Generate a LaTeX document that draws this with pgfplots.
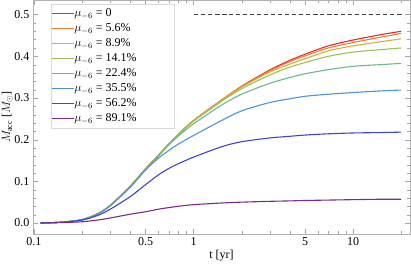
\documentclass[border=0pt]{standalone}
\usepackage{fontspec}
\setmainfont{Liberation Serif}
\usepackage{pgfplots}
\usepackage{pgfplotstable}
\pgfplotsset{compat=1.18}

\definecolor{muRed}{HTML}{E8262B}
\definecolor{muOrange}{HTML}{EE7D33}
\definecolor{muYellow}{HTML}{D7AE3A}
\definecolor{muGreen}{HTML}{9CC153}
\definecolor{muTeal}{HTML}{6AB98A}
\definecolor{muLightBlue}{HTML}{4C94D8}
\definecolor{muBlue}{HTML}{3F42D3}
\definecolor{muPurple}{HTML}{7A2A92}

\pgfplotstableread{
t      c0     c1     c2     c3     c4     c5     c6     c7
0.11   0.000  0.000  0.000  0.000  0.000  0.000  0.000  0.000
0.15   0.002  0.002  0.002  0.002  0.002  0.002  0.002  0.001
0.2    0.008  0.008  0.008  0.008  0.008  0.008  0.007  0.003
0.25   0.022  0.022  0.022  0.022  0.022  0.021  0.018  0.007
0.3    0.042  0.042  0.042  0.042  0.042  0.041  0.033  0.012
0.4    0.088  0.088  0.088  0.088  0.087  0.085  0.063  0.021
0.5    0.130  0.130  0.130  0.130  0.129  0.127  0.092  0.027
0.6    0.162  0.162  0.162  0.161  0.160  0.155  0.115  0.033
0.7    0.190  0.190  0.190  0.189  0.187  0.174  0.131  0.037
0.8    0.212  0.212  0.212  0.211  0.208  0.189  0.142  0.040
1.0    0.246  0.246  0.246  0.244  0.238  0.210  0.158  0.044
1.5    0.295  0.295  0.294  0.292  0.283  0.246  0.183  0.048
2.0    0.328  0.327  0.326  0.322  0.309  0.269  0.195  0.050
3.0    0.367  0.365  0.362  0.355  0.335  0.289  0.204  0.052
4.0    0.390  0.387  0.381  0.374  0.349  0.298  0.208  0.053
5.0    0.405  0.401  0.394  0.385  0.358  0.304  0.211  0.054
7.0    0.425  0.420  0.413  0.400  0.368  0.309  0.214  0.055
10     0.439  0.433  0.425  0.410  0.376  0.313  0.216  0.056
15     0.452  0.446  0.435  0.416  0.380  0.317  0.217  0.057
20     0.460  0.455  0.442  0.420  0.383  0.319  0.218  0.057
}\datatable

\newcommand{\legtext}[1]{\makebox[100pt][l]{#1}}

\begin{document}
\begin{tikzpicture}[font=\fontsize{12}{14}\selectfont]
\useasboundingbox (0,0) rectangle (411pt,268pt);
\begin{axis}[
  at={(33pt,34pt)}, anchor=south west,
  scale only axis, width=377pt, height=234pt,
  xmode=log, xmin=0.0986, xmax=22.7,
  ymin=-0.0264, ymax=0.535,
  xtick={0.1,0.5,1,5,10}, xticklabels={0.1,0.5,1,5,10},
  minor xtick={0.2,0.3,0.4,0.6,0.7,0.8,0.9,2,3,4,6,7,8,9,20},
  ytick={0,0.1,0.2,0.3,0.4,0.5}, minor y tick num=4,
  yticklabel style={/pgf/number format/.cd,fixed,fixed zerofill,precision=1},
  /pgf/number format/assume math mode=true,
  axis line style={black!30},
  tick style={black!35},
  major tick length=5pt, minor tick length=3pt,
  tick align=inside,
  xlabel={t [yr]},
  xlabel style={at={(rel axis cs:0.5,0)}, anchor=base, yshift=-24pt, inner sep=0pt},
  ylabel={$M_{\mathrm{acc}}$ [$M_\odot$]},
  ylabel style={at={(rel axis cs:-0.053,0.5)}, anchor=south, inner sep=0pt},
  legend cell align=left,
  legend style={at={(rel axis cs:0.048,0.983)}, anchor=north west,
    draw=black!15, fill=white, inner xsep=0pt, inner ysep=2pt, row sep=0pt,
    nodes={text height=8.5pt, text depth=3pt, inner ysep=1.75pt, inner xsep=0pt},
    font=\fontsize{12}{14}\selectfont},
  legend image code/.code={\draw[#1] (0pt,0pt) -- (22pt,0pt);},
  every axis plot/.append style={line width=1.1pt, smooth},
]
\addplot[color=muRed] table[x=t,y=c0] {\datatable}; \addlegendentry{\legtext{$\mu_{-6}$ = 0}}
\addplot[color=muOrange] table[x=t,y=c1] {\datatable}; \addlegendentry{\legtext{$\mu_{-6}$ = 5.6\%}}
\addplot[color=muYellow] table[x=t,y=c2] {\datatable}; \addlegendentry{\legtext{$\mu_{-6}$ = 8.9\%}}
\addplot[color=muGreen] table[x=t,y=c3] {\datatable}; \addlegendentry{\legtext{$\mu_{-6}$ = 14.1\%}}
\addplot[color=muTeal] table[x=t,y=c4] {\datatable}; \addlegendentry{\legtext{$\mu_{-6}$ = 22.4\%}}
\addplot[color=muLightBlue] table[x=t,y=c5] {\datatable}; \addlegendentry{\legtext{$\mu_{-6}$ = 35.5\%}}
\addplot[color=muBlue] table[x=t,y=c6] {\datatable}; \addlegendentry{\legtext{$\mu_{-6}$ = 56.2\%}}
\addplot[color=muPurple] table[x=t,y=c7] {\datatable}; \addlegendentry{\legtext{$\mu_{-6}$ = 89.1\%}}
\addplot[color=black!75, line width=1.5pt, dash pattern=on 4.5pt off 2.5pt, smooth=false, forget plot] coordinates {(1,0.5) (20,0.5)};
\end{axis}
\end{tikzpicture}
\end{document}
